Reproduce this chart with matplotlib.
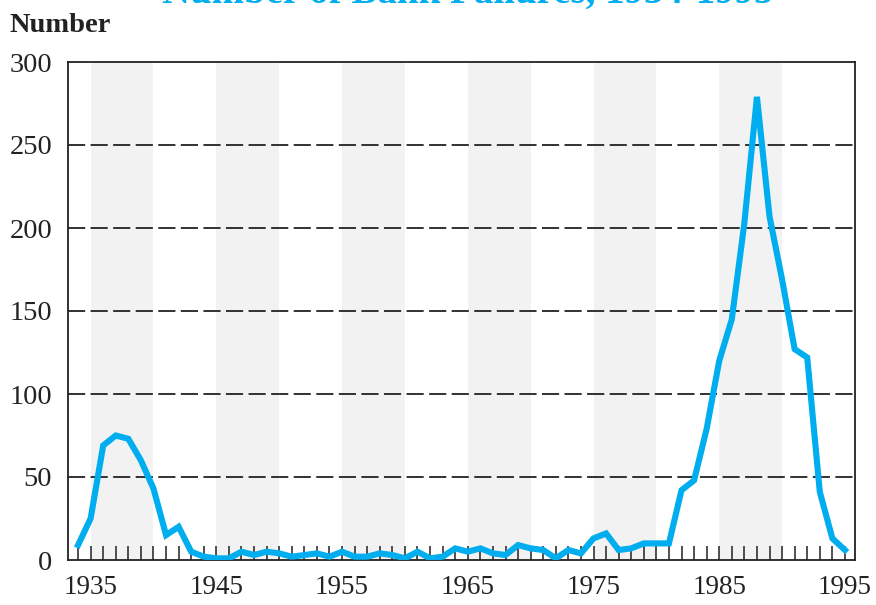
import matplotlib
matplotlib.use('Agg')
import matplotlib.pyplot as plt

# FDIC bank failures per year
years = list(range(1934, 1996))
failures = [9, 25, 69, 75, 73, 60, 43, 15, 20, 5,
            2, 1, 1, 5, 3, 5, 4, 2, 3, 4,
            2, 5, 2, 2, 4, 3, 1, 5, 1, 2,
            7, 5, 7, 4, 3, 9, 7, 6, 1, 6,
            4, 13, 16, 6, 7, 10, 10, 10, 42, 48,
            79, 120, 145, 203, 279, 207, 169, 127, 122, 41,
            13, 6]
band_starts = [1935, 1945, 1955, 1965, 1975, 1985]
label_years = [1935, 1945, 1955, 1965, 1975, 1985, 1995]
y_ticks = [0, 50, 100, 150, 200, 250, 300]

title = 'Number of Bank Failures, 1934-1995'
y_title = 'Number'

line_color = '#00aeef'
serif = ['Liberation Serif', 'DejaVu Serif']
plt.rcParams['font.family'] = serif

fig = plt.figure(figsize=(8.76, 6.05), dpi=100)
ax = fig.add_axes([68 / 876, 1 - 560 / 605, (855 - 68) / 876, (560 - 62) / 605])

# shaded decades
for start in band_starts:
    ax.axvspan(start, start + 5, color='#f2f2f2', lw=0, zorder=0)

# dashed gridlines
for v in y_ticks[1:-1]:
    ax.axhline(v, color='#222222', lw=1.3, dashes=(9.5, 3), zorder=1)

ax.plot(years, failures, color=line_color, lw=4.4, solid_joinstyle='miter', zorder=3)

ax.set_xlim(1933.2, 1995.8)
ax.set_ylim(0, 300)

ax.set_xticks(years)
ax.set_xticklabels([str(y) if y in label_years else '' for y in years])
ax.set_yticks(y_ticks)
ax.tick_params(axis='x', direction='in', length=10, width=1.1, color='#222222',
               pad=11, labelsize=19.5, labelcolor='#222222')
ax.tick_params(axis='y', length=0, pad=11.5, labelsize=20.5, labelcolor='#222222')

for sp in ax.spines.values():
    sp.set_color('#222222')
    sp.set_linewidth(1.3)

fig.text(10 / 876, 1 - 32 / 605, y_title, fontsize=20.5, fontweight='bold',
         color='#222222', ha='left', va='baseline')
# the title sits mostly above the top edge, as in the source image
fig.text(468 / 876, 1 - 3 / 605, title, fontsize=28, fontweight='bold',
         color=line_color, ha='center', va='baseline')

fig.savefig('out.png', dpi=100)
